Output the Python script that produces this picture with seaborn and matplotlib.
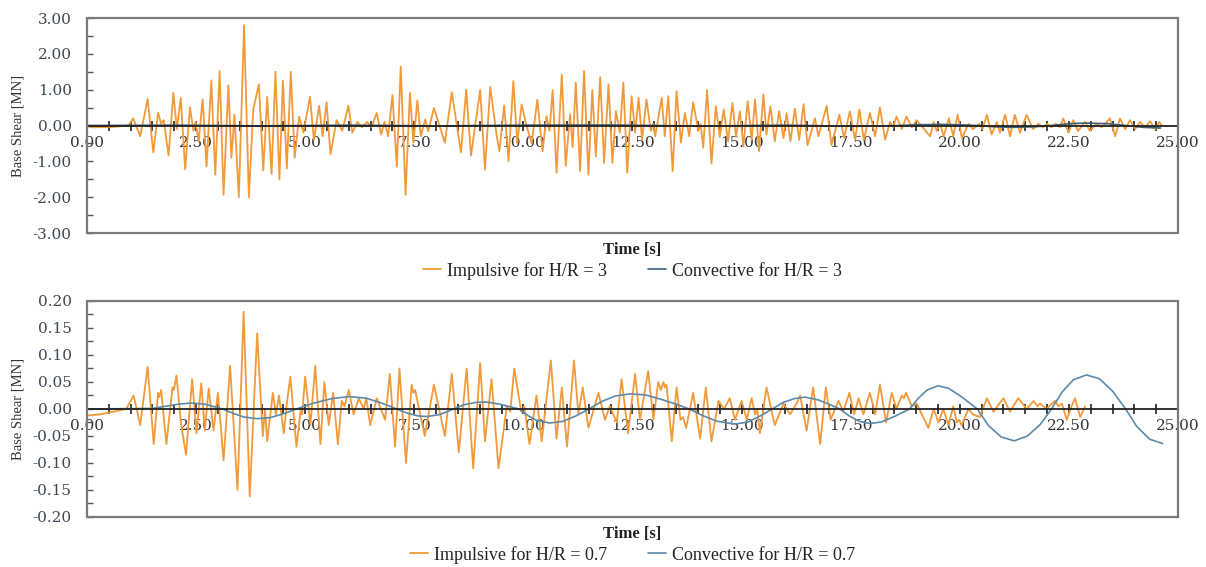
import pandas as pd
import matplotlib
matplotlib.use("Agg")
import matplotlib.pyplot as plt
import matplotlib.ticker as mticker
from matplotlib.patches import Rectangle
import seaborn as sns

# H/R = 3 : impulsive (peaks / troughs)
imp3_t = [0.00, 0.10, 0.60, 0.95, 1.06, 1.22, 1.39, 1.52, 1.63, 1.70, 1.76, 1.87, 1.98, 2.06, 2.15, 2.25,
          2.36, 2.44, 2.49, 2.56, 2.65, 2.74, 2.85, 2.94, 3.04, 3.13, 3.24, 3.31, 3.38, 3.48, 3.60, 3.71,
          3.81, 3.94, 4.04, 4.13, 4.23, 4.32, 4.41, 4.49, 4.58, 4.67, 4.76, 4.86, 4.96, 5.11, 5.20, 5.32,
          5.40, 5.49, 5.58, 5.72, 5.85, 5.99, 6.08, 6.20, 6.30, 6.42, 6.52, 6.64, 6.74, 6.82, 6.90, 7.00,
          7.10, 7.19, 7.30, 7.40, 7.48, 7.57, 7.65, 7.75, 7.82, 7.95, 8.20, 8.36, 8.57, 8.69, 8.80, 9.01,
          9.12, 9.24, 9.39, 9.45, 9.56, 9.66, 9.77, 9.86, 9.96, 10.06, 10.19, 10.32, 10.44, 10.53, 10.60,
          10.67, 10.76, 10.88, 10.97, 11.07, 11.13, 11.20, 11.30, 11.39, 11.49, 11.58, 11.66, 11.76, 11.85,
          11.95, 12.04, 12.12, 12.21, 12.29, 12.38, 12.48, 12.56, 12.64, 12.72, 12.82, 12.92, 12.97, 13.02,
          13.17, 13.24, 13.32, 13.42, 13.51, 13.61, 13.70, 13.80, 13.89, 14.01, 14.06, 14.12, 14.21, 14.31,
          14.41, 14.50, 14.59, 14.69, 14.79, 14.87, 14.96, 15.04, 15.14, 15.23, 15.31, 15.40, 15.50, 15.57,
          15.66, 15.76, 15.86, 15.96, 16.03, 16.12, 16.22, 16.32, 16.42, 16.51, 16.68, 16.76, 16.95, 17.06,
          17.24, 17.35, 17.48, 17.60, 17.70, 17.80, 17.94, 18.06, 18.17, 18.29, 18.40, 18.47, 18.55, 18.67,
          18.78, 18.90, 19.01, 19.32, 19.40, 19.47, 19.55, 19.63, 19.75, 19.85, 19.95, 20.05, 20.20, 20.30,
          20.45, 20.52, 20.62, 20.73, 20.85, 20.92, 21.04, 21.15, 21.26, 21.38, 21.53, 21.68, 21.80, 21.90,
          22.00, 22.10, 22.20, 22.30, 22.37, 22.49, 22.60, 22.71, 22.87, 22.98, 23.13, 23.25, 23.44, 23.56,
          23.67, 23.79, 23.90, 24.02, 24.13, 24.24, 24.36, 24.48, 24.57, 24.63]
imp3_v = [0.00, -0.05, -0.04, 0.00, 0.20, -0.30, 0.74, -0.75, 0.36, 0.05, 0.15, -0.84, 0.91, -0.10, 0.77, -1.22,
          0.51, -0.15, 0.10, -0.45, 0.73, -1.14, 1.26, -1.37, 1.52, -1.93, 1.12, -0.90, 0.30, -2.00, 2.80, -2.00,
          0.45, 1.15, -1.25, 0.80, -1.35, 1.50, -1.50, 1.25, -1.20, 1.50, -0.90, 0.25, -0.20, 0.80, -0.40, 0.55,
          -0.30, 0.65, -0.80, 0.15, -0.15, 0.55, -0.20, 0.10, -0.05, 0.10, -0.05, 0.35, -0.25, 0.10, -0.30, 0.85,
          -1.15, 1.65, -1.93, 0.91, -0.48, 0.70, -0.30, 0.17, -0.16, 0.49, -0.48, 0.93, -0.75, 1.00, -0.84, 0.99,
          -1.23, 1.08, -0.30, -0.72, 0.56, -0.99, 1.24, -0.49, 0.59, 0.05, -0.50, 0.72, -0.72, 0.26, -0.15,
          0.99, -1.32, 1.42, -1.12, 0.31, -0.60, 1.20, -1.27, 1.52, -1.37, 0.99, -0.86, 1.35, -1.04,
          1.15, -1.04, 0.40, -0.20, 1.20, -1.32, 0.82, -0.20, 0.77, -0.40, 0.73, -0.15, 0.05, -0.30,
          0.77, -0.30, 0.82, -1.27, 0.96, -0.48, 0.35, -0.30, 0.65, -0.15, 0.05, -0.62, 0.99, -1.06,
          0.54, -0.32, 0.45, -0.44, 0.63, -0.32, 0.40, -0.58, 0.68, -0.40, 0.73, -0.72, 0.87, -0.25,
          0.54, -0.44, 0.40, -0.35, 0.35, -0.44, 0.47, -0.40, 0.60, -0.55, 0.20, -0.30, 0.55, -0.55,
          0.30, -0.35, 0.40, -0.40, 0.45, -0.40, 0.35, -0.30, 0.50, -0.40, 0.10, -0.05, 0.25, -0.10,
          0.25, -0.05, 0.15, -0.30, 0.10, -0.15, 0.05, -0.30, 0.20, -0.30, 0.30, -0.35, 0.05, -0.10,
          0.05, -0.10, 0.30, -0.25, 0.10, -0.20, 0.30, -0.30, 0.30, -0.20, 0.30, -0.10, 0.05, -0.05,
          0.05, -0.05, 0.05, -0.05, 0.20, -0.20, 0.15, -0.15, 0.10, -0.15, 0.05, -0.05, 0.20, -0.30,
          0.20, -0.10, 0.15, -0.10, 0.10, -0.05, 0.12, -0.10, 0.10, 0.00]

# H/R = 3 : convective
conv3_t = [0.0, 2.0, 4.0, 6.0, 8.0, 10.0, 12.0, 14.0, 16.0, 17.0, 17.5, 18.1, 18.6, 19.0, 19.5, 20.0, 20.4,
           20.8, 21.2, 21.7, 22.1, 22.5, 22.9, 23.4, 23.8, 24.2, 24.6]
conv3_v = [0.0, 0.01, -0.01, 0.01, -0.01, 0.01, 0.015, -0.015, 0.01, -0.01, -0.02, -0.012, 0.0, 0.02, 0.03, 0.02, 0.0,
           -0.035, -0.05, -0.035, 0.0, 0.05, 0.07, 0.05, 0.0, -0.05, -0.07]

# H/R = 0.7 : impulsive
imp07_t = [0.00, 0.30, 0.60, 0.90, 1.07, 1.22, 1.39, 1.53, 1.63, 1.66, 1.70, 1.82, 1.96, 1.99, 2.05, 2.16,
           2.27, 2.41, 2.51, 2.62, 2.70, 2.79, 2.90, 3.00, 3.13, 3.28, 3.45, 3.59, 3.73, 3.90, 4.03, 4.08,
           4.13, 4.26, 4.33, 4.40, 4.51, 4.58, 4.66, 4.80, 4.90, 4.93, 5.00, 5.12, 5.23, 5.35, 5.44, 5.54,
           5.64, 5.75, 5.84, 5.90, 6.00, 6.11, 6.23, 6.34, 6.40, 6.49, 6.64, 6.83, 6.94, 7.06, 7.16, 7.31,
           7.44, 7.48, 7.52, 7.74, 7.95, 8.20, 8.36, 8.52, 8.70, 8.85, 9.01, 9.12, 9.27, 9.43, 9.62, 9.70,
           9.79, 9.95, 10.02, 10.14, 10.30, 10.42, 10.63, 10.76, 10.88, 11.00, 11.16, 11.26, 11.36, 11.49,
           11.72, 11.87, 11.98, 12.14, 12.25, 12.40, 12.56, 12.67, 12.86, 12.98, 13.09, 13.15, 13.21, 13.24,
           13.28, 13.40, 13.51, 13.60, 13.66, 13.73, 13.89, 14.05, 14.18, 14.31, 14.47, 14.60, 14.73, 14.85,
           15.00, 15.12, 15.23, 15.31, 15.36, 15.42, 15.57, 15.76, 15.96, 16.11, 16.26, 16.34, 16.49, 16.64,
           16.80, 16.93, 17.04, 17.22, 17.33, 17.47, 17.58, 17.68, 17.79, 17.94, 18.06, 18.17, 18.31, 18.44,
           18.55, 18.67, 18.72, 18.77, 18.90, 19.01, 19.28, 19.40, 19.51, 19.62, 19.74, 19.85, 19.93, 19.98,
           20.04, 20.20, 20.30, 20.46, 20.62, 20.77, 21.00, 21.15, 21.34, 21.53, 21.69, 21.78, 21.84, 21.99,
           22.18, 22.26, 22.34, 22.45, 22.56, 22.64, 22.76, 22.87]
imp07_v = [-0.012, -0.010, -0.005, 0.000, 0.025, -0.030, 0.078, -0.065, 0.030, 0.022, 0.035, -0.065, 0.040, 0.035, 0.062, -0.030,
           -0.085, 0.055, -0.045, 0.048, -0.040, 0.038, -0.040, 0.030, -0.095, 0.080, -0.150, 0.180, -0.162, 0.140, -0.050, 0.000,
           -0.060, 0.030, -0.010, 0.025, -0.045, 0.010, 0.060, -0.070, 0.000, -0.010, 0.060, -0.030, 0.080, -0.065, 0.050, -0.030,
           0.030, -0.065, 0.015, 0.005, 0.035, -0.010, 0.020, 0.000, 0.020, -0.030, 0.020, -0.020, 0.065, -0.070, 0.075, -0.100,
           0.045, 0.030, 0.035, -0.050, 0.045, -0.050, 0.065, -0.080, 0.075, -0.110, 0.085, -0.060, 0.055, -0.110, 0.005, -0.005,
           0.075, -0.005, 0.005, -0.065, 0.025, -0.060, 0.090, -0.055, 0.040, -0.070, 0.090, -0.010, 0.040, -0.035,
           0.030, -0.020, 0.005, -0.025, 0.055, -0.045, 0.065, -0.020, 0.070, -0.020, 0.050, 0.035, 0.050, 0.040,
           0.045, -0.060, 0.040, -0.020, -0.015, -0.035, 0.030, -0.055, 0.040, -0.060, 0.015, 0.000, 0.020, -0.020,
           0.015, -0.020, 0.020, -0.010, 0.000, -0.045, 0.040, -0.030, 0.010, -0.010, 0.010, 0.025, -0.040, 0.040,
           -0.065, 0.040, -0.020, 0.015, -0.005, 0.030, -0.010, 0.020, -0.010, 0.030, -0.010, 0.045, -0.025, 0.030,
           0.000, 0.025, 0.020, 0.030, 0.005, 0.010, -0.035, 0.000, -0.025, 0.000, -0.030, 0.005, -0.025, -0.020,
           -0.030, 0.000, -0.010, -0.015, 0.020, -0.005, 0.020, -0.005, 0.020, 0.000, 0.015, 0.005, 0.010, 0.000,
           0.015, 0.005, 0.010, -0.020, 0.005, 0.020, -0.015, 0.005]

# H/R = 0.7 : convective
conv07_t = [0.0, 1.5, 1.8, 2.1, 2.4, 2.7, 3.1, 3.35, 3.6, 3.9, 4.2, 4.5, 4.8, 5.2, 5.6, 6.0, 6.4, 6.75,
            7.1, 7.35, 7.6, 7.8, 8.1, 8.4, 8.65, 8.9, 9.15, 9.45, 9.7, 9.9, 10.1, 10.3, 10.6, 10.9, 11.2,
            11.5, 11.8, 12.1, 12.45, 12.8, 13.15, 13.5, 13.8, 14.1, 14.45, 14.85, 15.15, 15.45, 15.7, 15.95,
            16.2, 16.45, 16.75, 17.0, 17.25, 17.45, 17.7, 17.95, 18.2, 18.5, 18.85, 19.05, 19.25, 19.5,
            19.75, 20.05, 20.4, 20.65, 20.95, 21.25, 21.55, 21.85, 22.1, 22.35, 22.6, 22.9, 23.2, 23.5,
            23.8, 24.05, 24.35, 24.65]
conv07_v = [0.0, 0.001, 0.005, 0.009, 0.011, 0.009, 0.0, -0.008, -0.015, -0.018, -0.016, -0.009, 0.0, 0.011, 0.019, 0.023, 0.020, 0.011,
            0.0, -0.008, -0.013, -0.014, -0.010, 0.0, 0.008, 0.012, 0.013, 0.009, 0.004, 0.0, -0.012, -0.021, -0.026, -0.023, -0.013,
            0.0, 0.014, 0.024, 0.028, 0.026, 0.018, 0.009, 0.0, -0.012, -0.023, -0.028, -0.024, -0.012, 0.0, 0.012,
            0.019, 0.022, 0.017, 0.009, 0.0, -0.012, -0.023, -0.027, -0.024, -0.014, 0.0, 0.020, 0.035, 0.043,
            0.038, 0.022, 0.0, -0.030, -0.052, -0.059, -0.050, -0.028, 0.0, 0.032, 0.054, 0.063, 0.056, 0.033,
            0.0, -0.032, -0.056, -0.064]

x_ticks = [0.0, 2.5, 5.0, 7.5, 10.0, 12.5, 15.0, 17.5, 20.0, 22.5, 25.0]
legend_top = ["Impulsive for H/R = 3", "Convective for H/R = 3"]
legend_bot = ["Impulsive for H/R = 0.7", "Convective for H/R = 0.7"]

ORANGE = "#f29a3a"
CONV_TOP = "#3e5f73"
CONV_BOT = "#5b8aac"
LABEL_C = "#3c4854"

sns.set_style("white")
plt.rcParams["font.family"] = ["Liberation Serif", "DejaVu Serif"]

fig = plt.figure(figsize=(12.06, 5.67), dpi=100)
ax1 = fig.add_axes([0.0721, 0.589, 0.9047, 0.3792])
ax2 = fig.add_axes([0.0721, 0.0882, 0.9047, 0.3810])


def draw_panel(ax, imp_t, imp_v, conv_t, conv_v, conv_color, labels, ylim, ymajor, yminor):
    df_imp = pd.DataFrame({"t": imp_t, "v": imp_v})
    df_conv = pd.DataFrame({"t": conv_t, "v": conv_v})
    sns.lineplot(data=df_imp, x="t", y="v", ax=ax, color=ORANGE, lw=1.3, label=labels[0],
                 estimator=None, sort=False, zorder=3)
    sns.lineplot(data=df_conv, x="t", y="v", ax=ax, color=conv_color, lw=1.2, label=labels[1],
                 estimator=None, sort=False, zorder=4)

    ax.set_xlim(0, 25)
    ax.set_ylim(*ylim)

    # x axis drawn through zero, frame as a separate box
    for s in ["top", "right", "left"]:
        ax.spines[s].set_visible(False)
    ax.spines["bottom"].set_position(("data", 0))
    ax.spines["bottom"].set_color("#222222")
    ax.spines["bottom"].set_linewidth(1.3)
    ax.spines["bottom"].set_zorder(5)
    ax.add_patch(Rectangle((0, 0), 1, 1, transform=ax.transAxes, fill=False,
                           edgecolor="#7a7a7a", lw=1.6, clip_on=False, zorder=6))

    ax.xaxis.set_major_locator(mticker.FixedLocator(x_ticks))
    ax.xaxis.set_minor_locator(mticker.MultipleLocator(0.5))
    ax.xaxis.set_major_formatter(mticker.FormatStrFormatter("%.2f"))
    ax.tick_params(axis="x", which="both", direction="inout", length=7, width=1.2,
                   color="#222222", bottom=True, labelsize=11, labelcolor="#333333", pad=4)

    ax.yaxis.set_major_locator(mticker.MultipleLocator(ymajor))
    ax.yaxis.set_minor_locator(mticker.MultipleLocator(yminor))
    ax.yaxis.set_major_formatter(mticker.FormatStrFormatter("%.2f"))
    ax.tick_params(axis="y", which="both", direction="in", length=4, width=1.0,
                   color="#555555", left=True, labelsize=11, labelcolor=LABEL_C, pad=11)
    for lab in ax.get_xticklabels() + ax.get_yticklabels():
        lab.set_family("DejaVu Serif")
    ax.grid(False)

    ax.set_xlabel("Time [s]", fontsize=12, fontweight="bold", color="#222222")
    ax.xaxis.set_label_coords(0.5, -0.04)
    ax.set_ylabel("Base Shear [MN]", fontsize=10.5, color="#333333")
    ax.yaxis.set_label_coords(-0.057, 0.5)

    ax.legend(loc="center", bbox_to_anchor=(0.5, -0.175), ncol=2, frameon=False,
              fontsize=13, handlelength=1.0, handletextpad=0.3, columnspacing=2.3,
              labelcolor="#222222")


draw_panel(ax1, imp3_t, imp3_v, conv3_t, conv3_v, CONV_TOP, legend_top, (-3, 3), 1.0, 0.5)
draw_panel(ax2, imp07_t, imp07_v, conv07_t, conv07_v, CONV_BOT, legend_bot, (-0.2, 0.2), 0.05, 0.025)

fig.savefig("out.png", dpi=100)
